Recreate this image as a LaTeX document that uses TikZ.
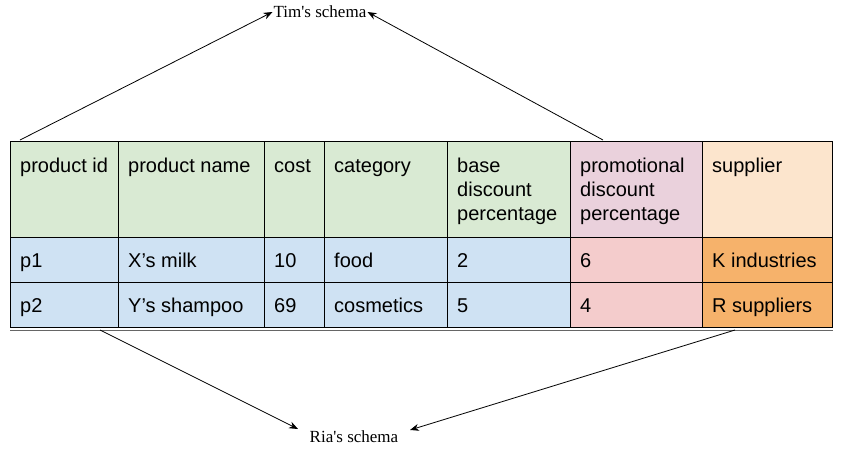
\documentclass[tikz,border=0pt]{standalone}
\usepackage{fontspec}
\setmainfont{Liberation Sans}
\newfontfamily\serifl{Liberation Serif}
\usetikzlibrary{arrows.meta}
\definecolor{hgreen}{HTML}{D9EAD3}
\definecolor{cblue}{HTML}{CFE2F3}
\definecolor{hpink}{HTML}{EAD1DC}
\definecolor{cpink}{HTML}{F4CCCC}
\definecolor{hpeach}{HTML}{FCE5CD}
\definecolor{corange}{HTML}{F6B26B}
\tikzset{
  cell/.style={draw=black, line width=1pt},
  txt/.style={anchor=base west, inner sep=0pt, font=\fontsize{20}{24}\selectfont},
  lbl/.style={inner sep=1pt, font=\serifl\fontsize{17}{20}\selectfont},
  arr/.style={-{Stealth[length=9pt,width=7pt]}, line width=0.8pt},
}
\begin{document}
\begin{tikzpicture}[x=1pt,y=-1pt]
\useasboundingbox (0,0) rectangle (841,451);
% header row
\foreach \a/\b/\c in {10/118/hgreen,118/264/hgreen,264/324/hgreen,324/447/hgreen,447/570/hgreen,570/702/hpink,702/832/hpeach}{
  \filldraw[cell, fill=\c] (\a,141) rectangle (\b,237);
}
% data rows
\foreach \y/\z in {237/282,282/327}{
  \foreach \a/\b/\c in {10/118/cblue,118/264/cblue,264/324/cblue,324/447/cblue,447/570/cblue,570/702/cpink,702/832/corange}{
    \filldraw[cell, fill=\c] (\a,\y) rectangle (\b,\z);
  }
}
% faint edge below the table
\draw[line width=0.6pt, black!60] (10,330) -- (833,330);
% header text
\node[txt] (h1) at (20,172) {product id};
\node[txt] (h2) at (128,172) {product name};
\node[txt] (h3) at (274,172) {cost};
\node[txt] (h4) at (334,172) {category};
\node[txt] (h5a) at (457,172) {base};
\node[txt] (h5b) at (457,196) {discount};
\node[txt] (h5c) at (457,220) {percentage};
\node[txt] (h6a) at (580,172) {promotional};
\node[txt] (h6b) at (580,196) {discount};
\node[txt] (h6c) at (580,220) {percentage};
\node[txt] (h7) at (712,172) {supplier};
% row 1
\node[txt] (a1) at (20,267) {p1};
\node[txt] (a2) at (128,267) {X’s milk};
\node[txt] (a3) at (274,267) {10};
\node[txt] (a4) at (334,267) {food};
\node[txt] (a5) at (457,267) {2};
\node[txt] (a6) at (580,267) {6};
\node[txt] (a7) at (712,267) {K industries};
% row 2
\node[txt] (b1) at (20,312) {p2};
\node[txt] (b2) at (128,312) {Y’s shampoo};
\node[txt] (b3) at (274,312) {69};
\node[txt] (b4) at (334,312) {cosmetics};
\node[txt] (b5) at (457,312) {5};
\node[txt] (b6) at (580,312) {4};
\node[txt] (b7) at (712,312) {R suppliers};
% labels
\node[lbl] (tim) at (320,12) {Tim's schema};
\node[lbl] (ria) at (354,437) {Ria's schema};
% arrow endpoints on the table
\coordinate (t1) at (20,140);
\coordinate (t2) at (603,140);
\coordinate (r1) at (100,330);
\coordinate (r2) at (735,330);
\coordinate (re1) at (298,429);
\coordinate (re2) at (410,430);
\draw[arr] (t1) -- (tim.west);
\draw[arr] (t2) -- (tim.east);
\draw[arr] (r1) -- (re1);
\draw[arr] (r2) -- (re2);
\end{tikzpicture}
\end{document}
